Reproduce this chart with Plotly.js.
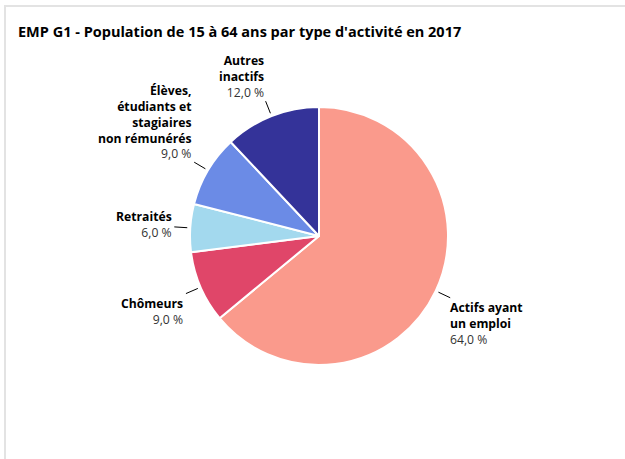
<!DOCTYPE html>
<html>
<head>
<meta charset="utf-8">
<script src="https://cdn.plot.ly/plotly-3.0.1.min.js"></script>
<style>html,body{margin:0;padding:0;background:#fff;}#chart{width:625px;height:459px;}</style>
</head>
<body>
<div id="chart"></div>
<script>
// ---- data ----
const categories = ["Actifs ayant<br>un emploi", "Chômeurs", "Retraités", "Élèves,<br>étudiants et<br>stagiaires<br>non rémunérés", "Autres<br>inactifs"];
const values = [64.0, 9.0, 6.0, 9.0, 12.0];
const pctLabels = ["64,0 %", "9,0 %", "6,0 %", "9,0 %", "12,0 %"];
const colors = ["#FA9A8C", "#E04669", "#A3D9EE", "#6B8BE6", "#343399"];
const chartTitle = "EMP G1 - Population de 15 à 64 ans par type d'activité en 2017";

// ---- layout geometry (pixels) ----
const W = 625, H = 459;
const cx = 319, cy = 236, R = 129;
const px = x => x / W;
const py = y => 1 - y / H;

// label placement tweaks per slice (pixel shifts relative to connector end)
const labelStyle = [
  {xa: "left",  ya: "top",    dx: -2, dy: -1},
  {xa: "right", ya: "top",    dx: -1, dy: -1},
  {xa: "right", ya: "middle", dx: 0,  dy: -2},
  {xa: "right", ya: "bottom", dx: -1, dy: 2},
  {xa: "right", ya: "bottom", dx: 0,  dy: 2}
];

const total = values.reduce((a, b) => a + b, 0);
let cum = 0;
const annotations = [];
const shapes = [];
values.forEach((v, i) => {
  const mid = (cum + v / 2) / total * 2 * Math.PI;
  cum += v;
  const dxu = Math.sin(mid), dyu = -Math.cos(mid);
  const x1 = cx + (R + 3) * dxu, y1 = cy + (R + 3) * dyu;
  const x2 = cx + (R + 16) * dxu, y2 = cy + (R + 16) * dyu;
  shapes.push({type: "line", xref: "paper", yref: "paper",
    x0: px(x1), y0: py(y1), x1: px(x2), y1: py(y2),
    line: {color: "#000", width: 1}});
  const s = labelStyle[i];
  annotations.push({
    xref: "paper", yref: "paper",
    x: px(x2 + s.dx), y: py(y2 + s.dy),
    xanchor: s.xa, yanchor: s.ya, align: s.xa === "left" ? "left" : "right",
    showarrow: false,
    text: "<b>" + categories[i] + "</b><br><span style='color:#333'>" + pctLabels[i] + "</span>",
    font: {family: "Open Sans, Noto Sans, sans-serif", size: 12.2, color: "#000"}
  });
});

// frame
shapes.push({type: "line", xref: "paper", yref: "paper", x0: px(5), y0: py(6), x1: px(5), y1: 0, line: {color: "#E3E3E3", width: 2}});
shapes.push({type: "line", xref: "paper", yref: "paper", x0: px(4), y0: py(6), x1: 1, y1: py(6), line: {color: "#E3E3E3", width: 2}});

const trace = {
  type: "pie",
  labels: categories,
  values: values,
  sort: false,
  direction: "clockwise",
  rotation: 0,
  marker: {colors: colors, line: {color: "#ffffff", width: 2}},
  textinfo: "none",
  hoverinfo: "label+percent",
  showlegend: false,
  domain: {x: [px(cx - R), px(cx + R)], y: [py(cy + R), py(cy - R)]}
};

const layout = {
  width: W, height: H,
  margin: {l: 0, r: 0, t: 0, b: 0},
  paper_bgcolor: "#fff",
  showlegend: false,
  title: {
    text: "<b>" + chartTitle + "</b>",
    x: px(18), xanchor: "left", xref: "paper",
    y: py(32), yanchor: "middle", yref: "paper",
    font: {family: "Open Sans, Noto Sans, sans-serif", size: 14.5, color: "#000"}
  },
  annotations: annotations,
  shapes: shapes
};

Plotly.newPlot("chart", [trace], layout, {displayModeBar: false, staticPlot: true});
</script>
</body>
</html>
